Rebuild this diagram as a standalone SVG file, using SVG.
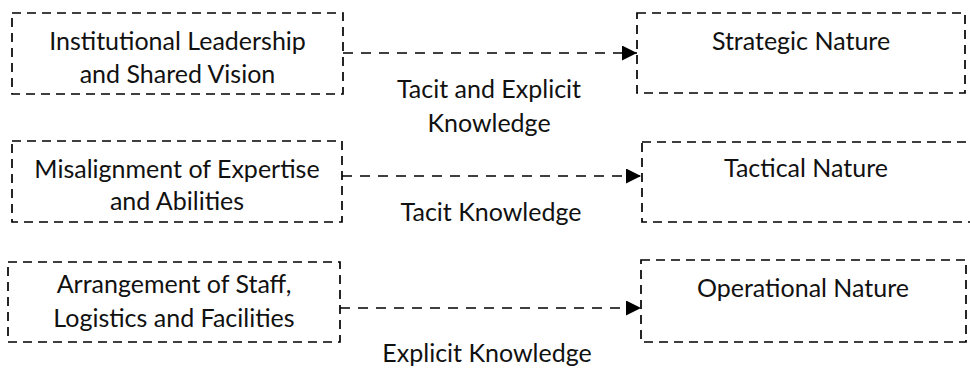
<svg xmlns="http://www.w3.org/2000/svg" width="970" height="372" viewBox="0 0 970 372">
<defs>
<style>
.box{fill:none;stroke:#000;stroke-width:1.7;stroke-dasharray:9 6}
.con{fill:none;stroke:#000;stroke-width:1.7;stroke-dasharray:10 8}
text{font-family:Lato,"Liberation Sans",sans-serif;font-size:25px;fill:#111;text-anchor:middle}
</style>
<marker id="ah" markerWidth="15" markerHeight="15" refX="15" refY="7.5" orient="auto" markerUnits="userSpaceOnUse">
<path d="M0,0 L15,7.5 L0,15 Z" fill="#000"/>
</marker>
</defs>
<rect width="970" height="372" fill="#fff"/>
<g id="n1">
<rect class="box" x="12" y="13" width="331" height="81"/>
<text x="177.5" y="50">Institutional Leadership</text>
<text x="177.5" y="83">and Shared Vision</text>
</g>
<g id="n2">
<rect class="box" x="637" y="13" width="328" height="80"/>
<text x="801" y="50">Strategic Nature</text>
</g>
<g id="n3">
<rect class="box" x="12" y="141" width="330" height="81"/>
<text x="177" y="178">Misalignment of Expertise</text>
<text x="177" y="210">and Abilities</text>
</g>
<g id="n4">
<rect class="box" x="642" y="142" width="330" height="80"/>
<text x="806" y="177">Tactical Nature</text>
</g>
<g id="n5">
<rect class="box" x="8" y="262" width="332" height="80"/>
<text x="174" y="293">Arrangement of Staff,</text>
<text x="174" y="327">Logistics and Facilities</text>
</g>
<g id="n6">
<rect class="box" x="641" y="260" width="325" height="82"/>
<text x="803" y="297">Operational Nature</text>
</g>
<g id="connectors">
<line class="con" x1="343" y1="53" x2="637" y2="53" marker-end="url(#ah)"/>
<line class="con" x1="342" y1="176" x2="641" y2="176" marker-end="url(#ah)"/>
<line class="con" x1="340" y1="308" x2="641" y2="308" marker-end="url(#ah)"/>
</g>
<g id="labels">
<text x="489" y="98">Tacit and Explicit</text>
<text x="489" y="132">Knowledge</text>
<text x="491" y="221">Tacit Knowledge</text>
<text x="487" y="362">Explicit Knowledge</text>
</g>
</svg>
